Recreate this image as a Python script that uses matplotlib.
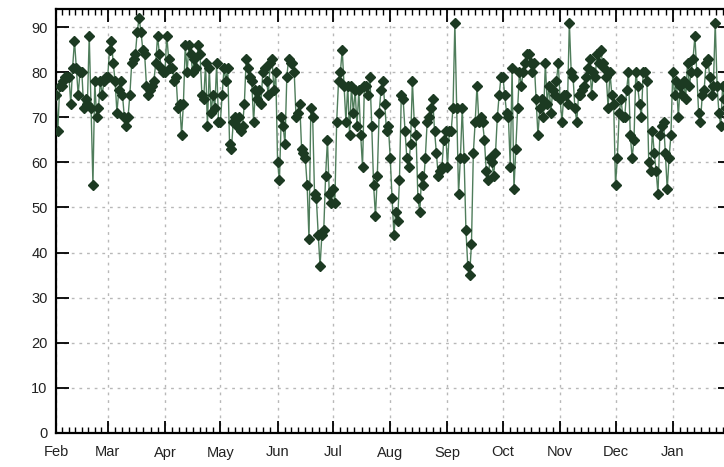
import numpy as np
import matplotlib
matplotlib.use("Agg")
import matplotlib.pyplot as plt
import matplotlib.dates as mdates

# daily values, one list per month (Feb .. Jan)
feb = [75, 67, 77, 77, 78, 79, 79, 79, 73, 81, 87, 81, 75, 80, 80, 72, 74, 73, 88, 72,
       55, 78, 70, 72, 78, 75, 78, 79]
mar = [79, 85, 87, 82, 78, 71, 76, 78, 75, 70, 68, 70, 75, 82, 83, 84, 89, 92, 89, 85,
       84, 77, 75, 76, 77, 78, 82, 88, 84, 81, 80]
apr = [80, 88, 83, 81, 81, 78, 79, 72, 73, 66, 73, 86, 80, 86, 84, 80, 83, 81, 86, 84,
       75, 74, 82, 68, 81, 71, 75, 72, 82, 69]
may = [69, 75, 81, 78, 81, 64, 63, 69, 70, 68, 70, 67, 68, 73, 83, 81, 79, 78, 69, 76,
       74, 76, 73, 80, 81, 78, 75, 82, 83, 76, 80]
jun = [60, 56, 70, 68, 64, 79, 83, 82, 82, 80, 70, 71, 73, 63, 62, 61, 55, 43, 72, 70,
       53, 52, 44, 37, 44, 45, 57, 65, 53, 51]
jul = [54, 51, 69, 78, 80, 85, 77, 69, 77, 66, 77, 71, 76, 68, 76, 66, 59, 77, 77, 75,
       79, 68, 55, 48, 57, 71, 76, 78, 73, 67, 68]
aug = [61, 52, 44, 49, 47, 56, 75, 74, 67, 61, 59, 64, 78, 69, 66, 52, 49, 57, 55, 61,
       69, 70, 72, 74, 67, 62, 57, 58, 59, 65, 67]
sep = [59, 67, 67, 72, 91, 72, 53, 61, 72, 61, 45, 37, 35, 42, 62, 69, 77, 69, 70, 69,
       65, 58, 56, 61, 60, 57, 62, 70, 75, 79]
oct_ = [79, 75, 71, 70, 59, 81, 54, 63, 72, 80, 77, 80, 82, 84, 84, 82, 80, 82, 74, 66,
        72, 74, 70, 82, 73, 77, 71, 76, 75, 78, 82]
nov = [74, 69, 75, 75, 73, 91, 80, 79, 72, 69, 75, 75, 76, 77, 79, 81, 83, 75, 80, 79,
       84, 82, 85, 82, 81, 79, 72, 80, 75, 73]
dec = [55, 61, 71, 74, 70, 70, 76, 80, 66, 61, 65, 80, 77, 73, 70, 80, 80, 78, 60, 58,
       67, 62, 58, 53, 66, 68, 69, 62, 54, 61, 66]
jan = [80, 75, 78, 70, 77, 75, 78, 74, 82, 77, 80, 83, 88, 80, 71, 69, 75, 76, 82, 83,
       79, 75, 77, 91, 77, 71, 68, 77, 74, 72, 70]

values = feb + mar + apr + may + jun + jul + aug + sep + oct_ + nov + dec + jan
dates = np.arange(np.datetime64("2009-02-01"), np.datetime64("2010-02-01"))
x = mdates.date2num(dates.astype(object))

month_starts = np.arange(np.datetime64("2009-02", "M"), np.datetime64("2010-03", "M"))
month_num = mdates.date2num(month_starts.astype("datetime64[D]").astype(object))
month_labels = ["Feb", "Mar", "Apr", "May", "Jun", "Jul", "Aug", "Sep", "Oct",
                "Nov", "Dec", "Jan"]
minor = []
for a, b in zip(month_num[:-1], month_num[1:]):
    minor += list(a + (b - a) * np.arange(1, 8) / 8)

fig = plt.figure(figsize=(7.24, 4.67), dpi=100)
ax = fig.add_axes([56 / 724, 34 / 467, 674 / 724, 424 / 467])

ax.plot(x, values, "-", color="#4f7d5b", lw=1.0, zorder=2)
ax.plot(x, values, "D", color="#1c3a22", ms=5.5, zorder=3)

ax.set_xlim(month_num[0], month_num[-1])
ax.set_ylim(0, 94)
ax.set_yticks(range(0, 91, 10))
ax.set_xticks(month_num[:-1])
ax.set_xticklabels(month_labels)
ax.set_xticks(minor, minor=True)

ax.grid(True, which="major", color="#b8b8b8", linestyle=(0, (2, 3.5)), lw=1.0)
ax.set_axisbelow(True)

for s in ax.spines.values():
    s.set_linewidth(1.6)
ax.tick_params(which="major", direction="in", length=9, width=1.3,
               top=True, right=True, labelsize=10.5, labelcolor="#222222")
ax.tick_params(which="minor", direction="in", length=4.5, width=1.0, top=True)
ax.tick_params(axis="y", pad=6)
ax.tick_params(axis="x", pad=9)
for lab in ax.get_xticklabels() + ax.get_yticklabels():
    lab.set_family("Liberation Sans")

fig.savefig("out.png", dpi=100)
